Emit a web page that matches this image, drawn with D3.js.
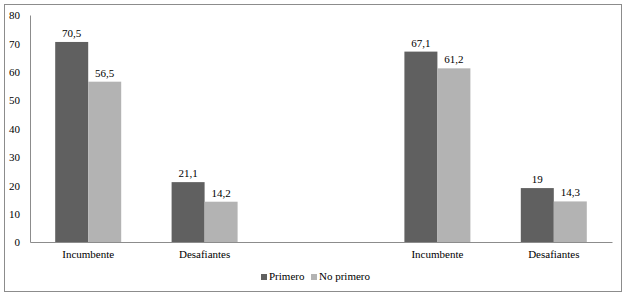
<!DOCTYPE html>
<html lang="es">
<head>
<meta charset="UTF-8">
<title>Primero / No primero</title>
<script src="https://d3js.org/d3.v7.min.js"></script>
<style>
    body { margin: 0; background: #fff; }
    #chart text { font-family: 'Liberation Serif', 'Times New Roman', Times, 'DejaVu Serif', serif !important; font-size: 11px; fill: #000; }
</style>
</head>
<body>
<svg id="chart"></svg>
<script>
    // data (third slot is an empty gap between the two blocks)
    const categories = ["Incumbente", "Desafiantes", "", "Incumbente", "Desafiantes"];
    const series = ["Primero", "No primero"];
    const primero = [70.5, 21.1, null, 67.1, 19];
    const noPrimero = [56.5, 14.2, null, 61.2, 14.3];
    const yTicks = [0, 10, 20, 30, 40, 50, 60, 70, 80];
    const colors = ["#606060", "#b3b3b3"];

    const W = 629, H = 298;
    const margin = { top: 15, right: 17, bottom: 56, left: 30 };
    const width = 612 - margin.left;
    const height = 242 - margin.top;

    const svg = d3.select("#chart").attr("width", W).attr("height", H);

    // outer frame
    svg.append("rect")
        .attr("x", 4.5).attr("y", 4.5)
        .attr("width", 617).attr("height", 287)
        .attr("fill", "none").attr("stroke", "#8c8c8c").attr("stroke-width", 1);

    const g = svg.append("g").attr("transform", `translate(${margin.left},${margin.top})`);

    const x0 = d3.scaleBand().domain(d3.range(categories.length)).range([0, width]);
    const x1 = d3.scaleBand().domain(series).range([0, 66]);
    const y = d3.scaleLinear().domain([0, 80]).range([height, 0]);

    // y axis
    const yAxis = g.append("g")
        .call(d3.axisLeft(y).tickValues(yTicks).tickSize(0).tickPadding(10).tickFormat(d3.format("d")));
    yAxis.attr("font-family", null).attr("font-size", null);
    yAxis.select(".domain").attr("stroke", "#8c8c8c");
    yAxis.selectAll("text").attr("dy", "0.35em");

    // bars
    const rows = categories.map((c, i) => ({ i, vals: [primero[i], noPrimero[i]] }));
    const grp = g.selectAll(".grp").data(rows).enter().append("g")
        .attr("transform", d => `translate(${x0(d.i) + x0.bandwidth() / 2 - 33},0)`);

    const cells = grp.selectAll("g").data(d => d.vals.map((v, k) => ({ v, k })).filter(e => e.v != null))
        .enter().append("g");

    cells.append("rect")
        .attr("x", d => x1(series[d.k]))
        .attr("y", d => y(d.v))
        .attr("width", x1.bandwidth())
        .attr("height", d => height - y(d.v))
        .attr("fill", d => colors[d.k]);

    cells.append("text")
        .attr("x", d => x1(series[d.k]) + x1.bandwidth() / 2)
        .attr("y", d => y(d.v) - 5)
        .attr("text-anchor", "middle")
        .text(d => String(d.v).replace(".", ","));

    // x axis
    const xAxis = g.append("g").attr("transform", `translate(0,${height})`)
        .call(d3.axisBottom(x0).tickSize(0).tickPadding(8).tickFormat(i => categories[i]));
    xAxis.attr("font-family", null).attr("font-size", null);
    xAxis.select(".domain").attr("stroke", "#8c8c8c");

    // legend
    const legend = svg.append("g").attr("transform", "translate(261,280)");
    const legX = [0, 50];
    series.forEach((s, k) => {
        legend.append("rect")
            .attr("x", legX[k]).attr("y", -6)
            .attr("width", 6).attr("height", 6)
            .attr("fill", colors[k]);
        legend.append("text")
            .attr("x", legX[k] + 8).attr("y", 0)
            .text(s);
    });
</script>
</body>
</html>
